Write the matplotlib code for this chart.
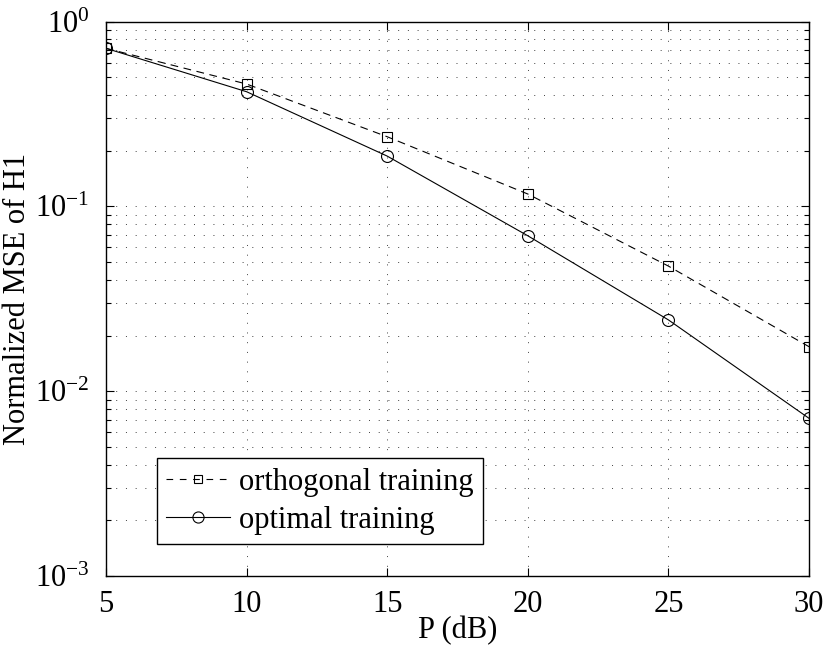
import numpy as np
import matplotlib
matplotlib.use("Agg")
import matplotlib.pyplot as plt
from matplotlib.lines import Line2D
from matplotlib.ticker import LogLocator, NullFormatter

plt.rcParams['font.family'] = ['Liberation Serif', 'DejaVu Serif']
plt.rcParams['mathtext.fontset'] = 'custom'
plt.rcParams['mathtext.rm'] = 'Liberation Serif'

# ---------- data ----------
p_db = [5, 10, 15, 20, 25, 30]
mse_orthogonal = [0.716, 0.459, 0.238, 0.1166, 0.0475, 0.0174]
mse_optimal = [0.716, 0.417, 0.187, 0.0693, 0.0243, 0.00713]
labels = ['orthogonal training', 'optimal training']

# ---------- figure ----------
fig = plt.figure(figsize=(8.3, 6.52), dpi=100)
ax = fig.add_axes([0.1277, 0.1166, 0.8470, 0.8504])

ax.semilogy(p_db, mse_orthogonal, color='k', lw=0.8, ls=(0, (7, 5)),
            marker='s', ms=7.6, mfc='none', mew=0.8)
ax.semilogy(p_db, mse_optimal, color='k', lw=0.8, ls='-',
            marker='o', ms=8.6, mfc='none', mew=0.8)

ax.set_xlim(5, 30)
ax.set_ylim(1e-3, 1e0)
ax.set_xticks([5, 10, 15, 20, 25, 30])
ax.yaxis.set_major_locator(LogLocator(base=10, numticks=10))
ax.yaxis.set_minor_locator(LogLocator(base=10, subs=np.arange(2, 10), numticks=20))
ax.yaxis.set_minor_formatter(NullFormatter())

# matlab-style dotted grid, inward ticks on all sides
grid_kw = dict(color='k', lw=0.7, ls=(0, (1, 9)), alpha=0.75)
ax.grid(True, which='major', axis='both', **grid_kw)
ax.grid(True, which='minor', axis='y', **grid_kw)
ax.tick_params(which='both', direction='in', top=True, right=True, labelsize=22)
ax.tick_params(axis='x', pad=10)
ax.tick_params(axis='y', pad=12)
ax.tick_params(which='major', length=6, width=0.8)
ax.tick_params(which='minor', length=3.5, width=0.8)
for s in ax.spines.values():
    s.set_linewidth(1.0)

ax.set_xlabel('P (dB)', fontsize=22, labelpad=-2)
ax.set_ylabel('Normalized MSE of H1', fontsize=22, labelpad=2)

# legend with smaller markers
handles = [
    Line2D([], [], color='k', lw=0.8, ls=(0, (6, 6)), marker='s', ms=5.8, mfc='none', mew=0.8),
    Line2D([], [], color='k', lw=0.8, ls='-', marker='o', ms=8, mfc='none', mew=0.8),
]
leg = ax.legend(handles, labels, loc='lower left', bbox_to_anchor=(0.0725, 0.0577),
                fontsize=22, frameon=True, fancybox=False, framealpha=1,
                edgecolor='k', handlelength=2.1, handletextpad=0.28,
                borderpad=0.3, labelspacing=0.3, borderaxespad=0)
leg.get_frame().set_linewidth(1.0)

fig.savefig('out.png', dpi=100)
plt.close(fig)
